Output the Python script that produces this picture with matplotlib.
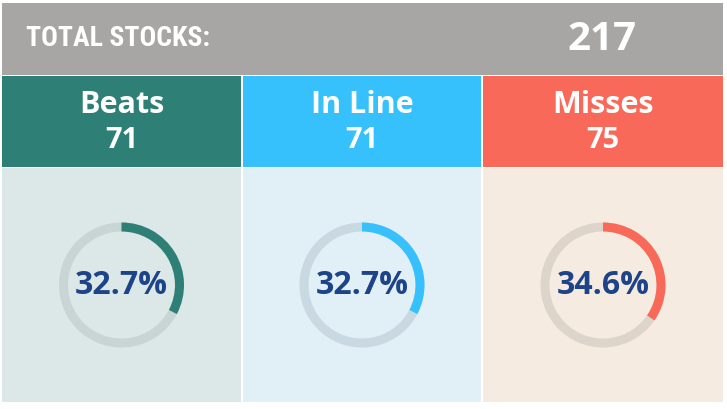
import matplotlib
matplotlib.use("Agg")
import matplotlib.pyplot as plt
from matplotlib.patches import Rectangle, Wedge

# ─── DATA ───────────────────────────────────────────────────────────────────
TOTAL_LABEL = "TOTAL STOCKS:"
TOTAL = 217
CATEGORIES = ["Beats", "In Line", "Misses"]
COUNTS = [71, 71, 75]
PERCENTS = [32.7, 32.7, 34.6]

# ─── STYLE ──────────────────────────────────────────────────────────────────
W, H = 727, 409
HEAD_COLOR = "#A8A6A5"
TOP_COLORS = ["#2E7F76", "#36C1FD", "#F9695A"]
BG_COLORS = ["#DCE8E7", "#E1EFF6", "#F6EBE1"]
TRACK_COLORS = ["#C8D5D4", "#C9D9E1", "#DDD4CB"]
PCT_COLOR = "#1D4488"
COL_X = [2, 243, 483]
COL_W = [239, 238, 240]
R_OUT, R_W = 62.5, 9
SANS = ["Open Sans", "DejaVu Sans"]

fig = plt.figure(figsize=(W / 100, H / 100), dpi=100)
ax = fig.add_axes([0, 0, 1, 1])
ax.set_xlim(0, W)
ax.set_ylim(H, 0)
ax.axis("off")

# header bar
ax.add_patch(Rectangle((2, 3), 721, 72, color=HEAD_COLOR, lw=0))
ax.text(26, 39, TOTAL_LABEL, color="white", fontsize=20, fontweight="bold",
        family=["Roboto Condensed", "DejaVu Sans"], va="center", ha="left")
ax.text(602, 40, str(TOTAL), color="white", fontsize=29, fontweight="bold",
        family=SANS, va="center", ha="center")

for i, (cat, n, p) in enumerate(zip(CATEGORIES, COUNTS, PERCENTS)):
    x0, w = COL_X[i], COL_W[i]
    cx = x0 + w / 2
    ax.add_patch(Rectangle((x0, 76), w, 91, color=TOP_COLORS[i], lw=0))
    ax.add_patch(Rectangle((x0, 168), w, 234, color=BG_COLORS[i], lw=0))
    ax.text(cx, 105, cat, color="white", fontsize=22, fontweight="bold",
            family=SANS, va="center", ha="center")
    ax.text(cx, 140, str(n), color="white", fontsize=21, fontweight="bold",
            family=SANS, va="center", ha="center")
    cy = 285
    ax.add_patch(Wedge((cx, cy), R_OUT, 0, 360, width=R_W,
                       color=TRACK_COLORS[i], lw=0))
    ax.add_patch(Wedge((cx, cy), R_OUT, 270, 270 + 360 * p / 100, width=R_W,
                       color=TOP_COLORS[i], lw=0))
    ax.text(cx, cy, f"{p:.1f}%", color=PCT_COLOR, fontsize=23, fontweight="bold",
            family=SANS, va="center", ha="center")

fig.savefig("out.png", dpi=100)
